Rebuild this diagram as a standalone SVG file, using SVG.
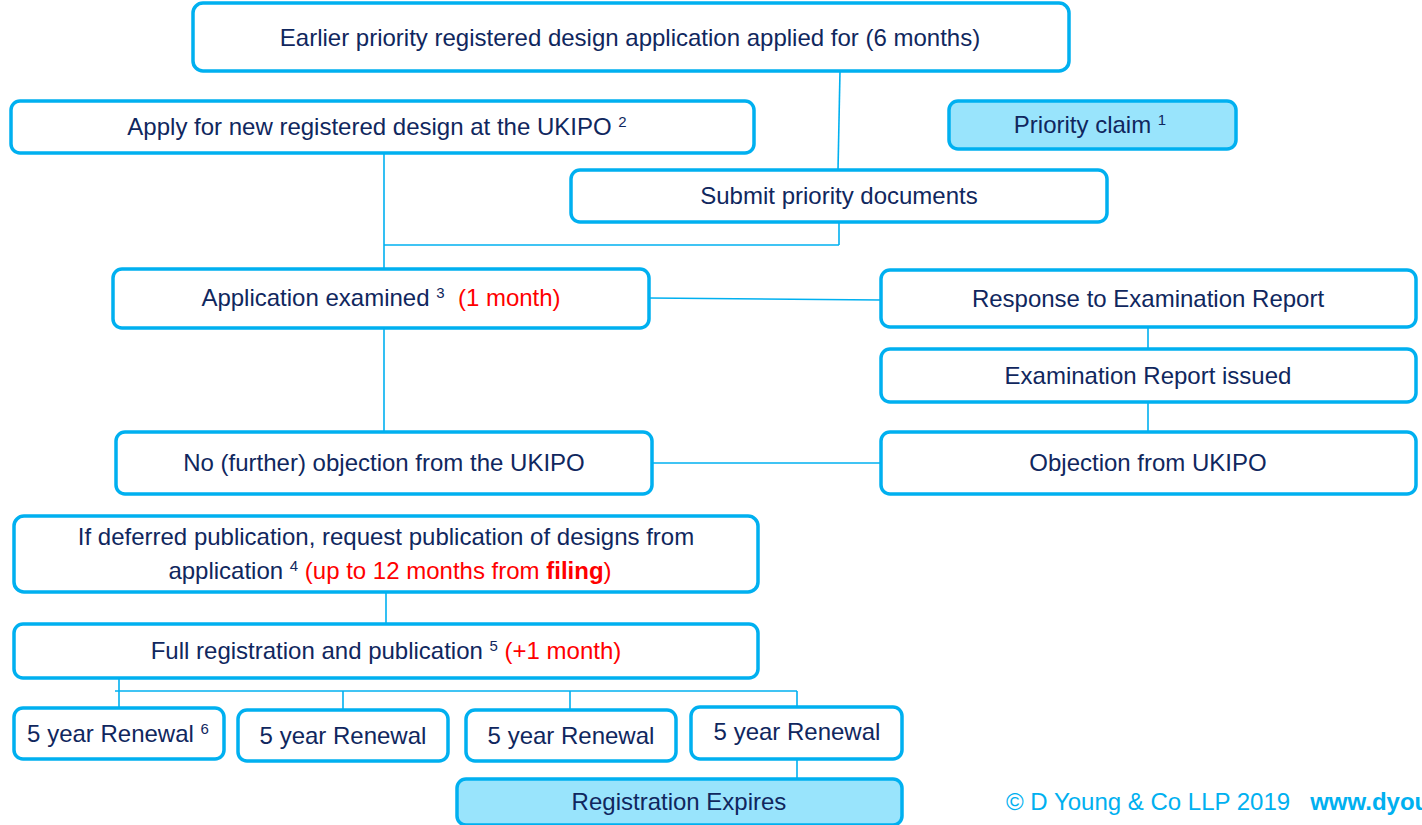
<svg xmlns="http://www.w3.org/2000/svg" width="1422" height="825" viewBox="0 0 1422 825">
  <style>
    .box { fill: #ffffff; stroke: #00b0f0; stroke-width: 3.5; }
    .box.hi { fill: #99e4fc; }
    .lbl { font-family: "Liberation Sans", Arial, sans-serif; font-size: 24px; fill: #10275e; text-anchor: middle; }
    .red { fill: #ff0000; }
    .sup { font-size: 15px; }
    .conn { stroke: #00b0f0; stroke-width: 1.6; fill: none; }
    .foot { font-family: "Liberation Sans", Arial, sans-serif; font-size: 24px; fill: #00b0f0; }
  </style>
  <rect width="1422" height="825" fill="#ffffff"/>

  <!-- connectors -->
  <g id="connectors">
    <line class="conn" x1="840" y1="71" x2="838" y2="170"/>
    <line class="conn" x1="384" y1="153" x2="384" y2="269"/>
    <line class="conn" x1="384" y1="245" x2="839" y2="245"/>
    <line class="conn" x1="839" y1="222" x2="839" y2="245"/>
    <line class="conn" x1="649" y1="298" x2="881" y2="300"/>
    <line class="conn" x1="384" y1="328" x2="384" y2="432"/>
    <line class="conn" x1="1148" y1="327" x2="1148" y2="349"/>
    <line class="conn" x1="1148" y1="402" x2="1148" y2="432"/>
    <line class="conn" x1="652" y1="463" x2="881" y2="463"/>
    <line class="conn" x1="386" y1="592" x2="386" y2="624"/>
    <line class="conn" x1="119" y1="678" x2="119" y2="708"/>
    <line class="conn" x1="115" y1="691" x2="797" y2="691"/>
    <line class="conn" x1="343" y1="691" x2="343" y2="710"/>
    <line class="conn" x1="570" y1="691" x2="570" y2="710"/>
    <line class="conn" x1="797" y1="691" x2="797" y2="707"/>
    <line class="conn" x1="797" y1="759" x2="797" y2="779"/>
  </g>

  <g id="earlier-priority">
    <rect class="box" x="193" y="3" width="876" height="68" rx="10"/>
    <text class="lbl" x="630" y="46">Earlier priority registered design application applied for (6 months)</text>
  </g>

  <g id="apply-new">
    <rect class="box" x="11" y="101" width="743" height="52" rx="9"/>
    <text class="lbl" x="377" y="135">Apply for new registered design at the UKIPO <tspan class="sup" dy="-8">2</tspan></text>
  </g>

  <g id="priority-claim">
    <rect class="box hi" x="949" y="101" width="287" height="48" rx="9"/>
    <text class="lbl" x="1090" y="133">Priority claim <tspan class="sup" dy="-8">1</tspan></text>
  </g>

  <g id="submit-docs">
    <rect class="box" x="571" y="170" width="536" height="52" rx="9"/>
    <text class="lbl" x="839" y="204">Submit priority documents</text>
  </g>

  <g id="examined">
    <rect class="box" x="113" y="269" width="536" height="59" rx="9"/>
    <text class="lbl" x="381" y="306">Application examined <tspan class="sup" dy="-8">3</tspan><tspan dy="8">&#160; </tspan><tspan class="red">(1 month)</tspan></text>
  </g>

  <g id="response">
    <rect class="box" x="881" y="270" width="535" height="57" rx="9"/>
    <text class="lbl" x="1148" y="307">Response to Examination Report</text>
  </g>

  <g id="exam-report">
    <rect class="box" x="881" y="349" width="535" height="53" rx="9"/>
    <text class="lbl" x="1148" y="384">Examination Report issued</text>
  </g>

  <g id="no-objection">
    <rect class="box" x="116" y="432" width="536" height="62" rx="9"/>
    <text class="lbl" x="384" y="471">No (further) objection from the UKIPO</text>
  </g>

  <g id="objection">
    <rect class="box" x="881" y="432" width="535" height="62" rx="9"/>
    <text class="lbl" x="1148" y="471">Objection from UKIPO</text>
  </g>

  <g id="deferred">
    <rect class="box" x="14" y="516" width="744" height="76" rx="10"/>
    <text class="lbl" x="386" y="545">If deferred publication, request publication of designs from</text>
    <text class="lbl" x="390" y="579">application <tspan class="sup" dy="-8">4</tspan><tspan dy="8" class="red"> (up to 12 months from <tspan font-weight="bold">filing</tspan>)</tspan></text>
  </g>

  <g id="full-registration">
    <rect class="box" x="14" y="624" width="744" height="54" rx="9"/>
    <text class="lbl" x="386" y="659">Full registration and publication <tspan class="sup" dy="-8">5</tspan><tspan dy="8" class="red"> (+1 month)</tspan></text>
  </g>

  <g id="renewal-1">
    <rect class="box" x="14" y="708" width="210" height="51" rx="9"/>
    <text class="lbl" x="118" y="742">5 year Renewal <tspan class="sup" dy="-8">6</tspan></text>
  </g>

  <g id="renewal-2">
    <rect class="box" x="238" y="710" width="210" height="51" rx="9"/>
    <text class="lbl" x="343" y="744">5 year Renewal</text>
  </g>

  <g id="renewal-3">
    <rect class="box" x="466" y="710" width="210" height="51" rx="9"/>
    <text class="lbl" x="571" y="744">5 year Renewal</text>
  </g>

  <g id="renewal-4">
    <rect class="box" x="691" y="707" width="211" height="52" rx="9"/>
    <text class="lbl" x="797" y="740">5 year Renewal</text>
  </g>

  <g id="expires">
    <rect class="box hi" x="457" y="779" width="445" height="46" rx="9"/>
    <text class="lbl" x="679" y="810">Registration Expires</text>
  </g>

  <g id="footer">
    <text class="foot" x="1006" y="810">© D Young &amp; Co LLP 2019 &#160; <tspan font-weight="bold">www.dyoung.com</tspan></text>
  </g>
</svg>
